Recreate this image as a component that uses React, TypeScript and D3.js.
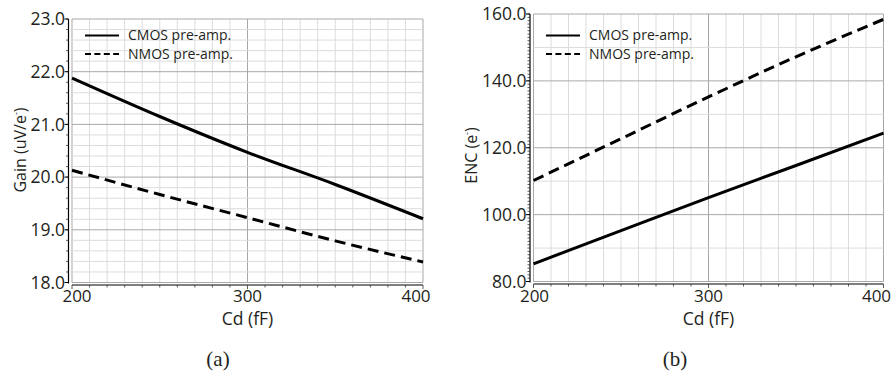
import React from "react";
import * as d3 from "d3";

const cdValues = [200, 250, 300, 350, 400];
const gainCMOS = [21.88, 21.15, 20.47, 19.86, 19.21];
const gainNMOS = [20.13, 19.67, 19.23, 18.79, 18.39];
const encCMOS = [85.3, 95.2, 105.1, 114.7, 124.4];
const encNMOS = [110.2, 122.7, 135.2, 147.2, 158.4];
const gainTicks = [18, 19, 20, 21, 22, 23];
const encTicks = [80, 100, 120, 140, 160];
const xTicks = [200, 300, 400];
const seriesNames = ["CMOS pre-amp.", "NMOS pre-amp."];

const FONT = "'Open Sans', 'DejaVu Sans', sans-serif";
const TXT = "#231f20";

type PanelProps = {
  x0: number; x1: number; yTop: number; yBot: number;
  yDomain: [number, number]; yTicks: number[]; yGridStep: number; yMajorStep: number;
  yTickMinor: number;
  cmos: number[]; nmos: number[];
  yTitle: string; caption: string;
  firstLabelOffset: number; lastLabelOffset: number;
  yTitleX: number; yTitleY: number; legendX: number; captionX: number;
};

function Panel(p: PanelProps) {
  const x = d3.scaleLinear().domain([200, 400]).range([p.x0, p.x1]);
  const y = d3.scaleLinear().domain(p.yDomain).range([p.yBot, p.yTop]);
  const line = d3.line<[number, number]>().x(d => x(d[0])).y(d => y(d[1])).curve(d3.curveMonotoneX);
  const vGrid = d3.range(200, 400.01, 10);
  const nH = Math.round((p.yDomain[1] - p.yDomain[0]) / p.yGridStep);
  const hGrid = d3.range(0, nH + 1).map(i => p.yDomain[0] + i * p.yGridStep);
  const nM = Math.round((p.yDomain[1] - p.yDomain[0]) / p.yTickMinor);
  const yMinor = d3.range(0, nM + 1).map(i => p.yDomain[0] + i * p.yTickMinor);
  const isMajorY = (v: number) => Math.abs(v / p.yMajorStep - Math.round(v / p.yMajorStep)) < 1e-6;
  const axisY = p.yBot + 2.5;
  const axisX = p.x0 - 3.5;
  const fmt = d3.format(".1f");
  const mid = (p.x0 + p.x1) / 2;
  return (
    <g>
      {vGrid.map(v => (
        <line key={"v" + v} x1={x(v)} x2={x(v)} y1={p.yTop} y2={p.yBot}
          stroke={v % 100 === 0 ? "#a8a8a8" : "#dcdcdc"} strokeWidth={1} />
      ))}
      {hGrid.map(v => (
        <line key={"h" + v} x1={p.x0} x2={p.x1} y1={y(v)} y2={y(v)}
          stroke={isMajorY(v) ? "#a8a8a8" : "#dcdcdc"} strokeWidth={1} />
      ))}
      <line x1={axisX} x2={axisX} y1={p.yTop} y2={p.yBot + 1} stroke="#000" strokeWidth={1.2} />
      <line x1={p.x0} x2={p.x1} y1={axisY} y2={axisY} stroke="#000" strokeWidth={1.2} />
      {yMinor.map(v => (
        <line key={"ym" + v} x1={axisX - 2.5} x2={axisX} y1={y(v)} y2={y(v)} stroke="#333" strokeWidth={0.8} />
      ))}
      {p.yTicks.map(v => (
        <line key={"yM" + v} x1={axisX - 4} x2={axisX} y1={y(v)} y2={y(v)} stroke="#000" strokeWidth={1} />
      ))}
      {vGrid.map(v => (
        <line key={"xm" + v} x1={x(v)} x2={x(v)} y1={axisY} y2={axisY + (v % 100 === 0 ? 4 : 2.5)} stroke="#333" strokeWidth={0.8} />
      ))}
      {p.yTicks.map(v => (
        <text key={"yl" + v} x={axisX - 3.5} y={y(v)} dy="0.36em" textAnchor="end"
          fontFamily={FONT} fontSize={17.5} fill={TXT}>{fmt(v)}</text>
      ))}
      {xTicks.map((v, i) => (
        <text key={"xl" + v}
          x={x(v) + (i === 0 ? p.firstLabelOffset : i === xTicks.length - 1 ? p.lastLabelOffset : 0)}
          y={302} textAnchor="middle" fontFamily={FONT} fontSize={17} fill={TXT}>{v}</text>
      ))}
      <text x={mid} y={325} textAnchor="middle" fontFamily={FONT} fontSize={17.5} fill={TXT}>Cd (fF)</text>
      <text transform={`translate(${p.yTitleX},${p.yTitleY}) rotate(-90)`} textAnchor="middle"
        fontFamily={FONT} fontSize={16} fill={TXT}>
        {p.yTitle}<tspan fontSize={9} dy={-7}>-</tspan><tspan dy={7}>)</tspan>
      </text>
      <text x={p.captionX} y={366} textAnchor="middle" fontFamily="'Liberation Serif', 'Times New Roman', serif"
        fontSize={21} fill={TXT}>{p.caption}</text>
      <path d={line(cdValues.map((c, i) => [c, p.cmos[i]]) as [number, number][]) || ""}
        fill="none" stroke="#000" strokeWidth={3} />
      <path d={line(cdValues.map((c, i) => [c, p.nmos[i]]) as [number, number][]) || ""}
        fill="none" stroke="#000" strokeWidth={3} strokeDasharray="11,6" />
      {seriesNames.map((name, i) => (
        <g key={name}>
          <line x1={p.legendX} x2={p.legendX + 34} y1={35.5 + i * 18.5} y2={35.5 + i * 18.5} stroke="#000" strokeWidth={2}
            strokeDasharray={i === 1 ? "6,3.4" : undefined} />
          <text x={p.legendX + 43} y={35.5 + i * 18.5} dy="0.35em" fontFamily={FONT} fontSize={14} fill={TXT}>{name}</text>
        </g>
      ))}
    </g>
  );
}

export default function App() {
  return (
    <svg width={893} height={374} style={{ position: "absolute", left: 0, top: 0, background: "#fff" }}>
      <rect width={893} height={374} fill="#fff" />
      <Panel x0={72} x1={423} yTop={19} yBot={282.5} yDomain={[18, 23]} yTicks={gainTicks}
        yGridStep={0.2} yMajorStep={1} yTickMinor={0.2}
        cmos={gainCMOS} nmos={gainNMOS} yTitle="Gain (uV/e" caption="(a)"
        firstLabelOffset={5} lastLabelOffset={-7} yTitleX={26} yTitleY={150} legendX={85} captionX={218} />
      <Panel x0={533.5} x1={883.5} yTop={14} yBot={281.5} yDomain={[80, 160]} yTicks={encTicks}
        yGridStep={10} yMajorStep={20} yTickMinor={1}
        cmos={encCMOS} nmos={encNMOS} yTitle="ENC (e" caption="(b)"
        firstLabelOffset={1} lastLabelOffset={-7} yTitleX={477} yTitleY={155.5} legendX={546} captionX={675} />
    </svg>
  );
}
